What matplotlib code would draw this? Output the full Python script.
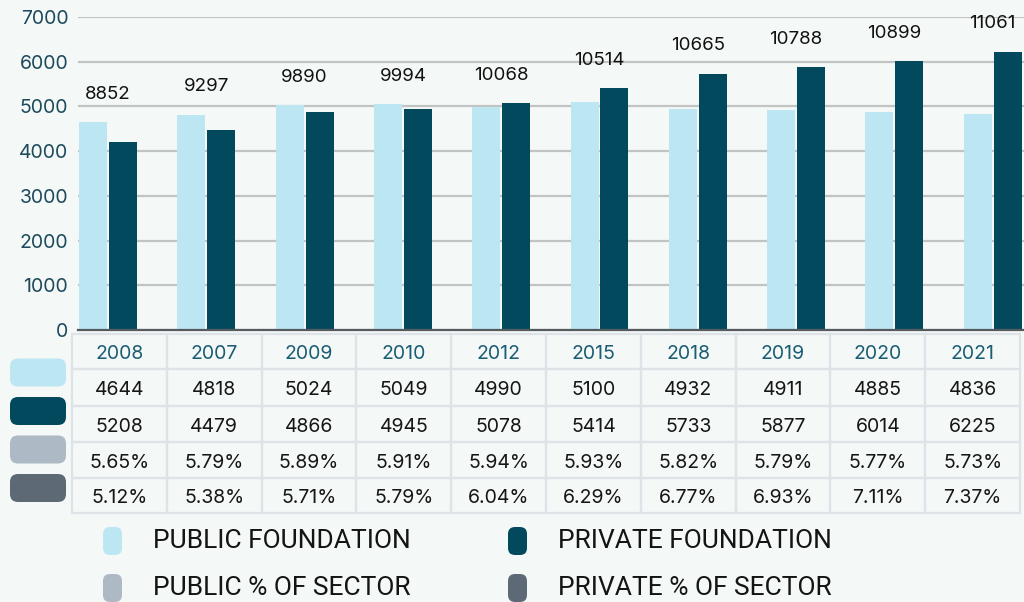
import matplotlib
matplotlib.use("Agg")
import matplotlib.pyplot as plt
from matplotlib.patches import FancyBboxPatch, Rectangle

years = ["2008", "2007", "2009", "2010", "2012", "2015", "2018", "2019", "2020", "2021"]
public = [4644, 4818, 5024, 5049, 4990, 5100, 4932, 4911, 4885, 4836]
private = [4208, 4479, 4866, 4945, 5078, 5414, 5733, 5877, 6014, 6225]
# table row as printed in the source (first value differs from the bar)
private_row = ["5208", "4479", "4866", "4945", "5078", "5414", "5733", "5877", "6014", "6225"]
public_pct = ["5.65%", "5.79%", "5.89%", "5.91%", "5.94%", "5.93%", "5.82%", "5.79%", "5.77%", "5.73%"]
private_pct = ["5.12%", "5.38%", "5.71%", "5.79%", "6.04%", "6.29%", "6.77%", "6.93%", "7.11%", "7.37%"]
series = ["PUBLIC FOUNDATION", "PRIVATE FOUNDATION", "PUBLIC % OF SECTOR", "PRIVATE % OF SECTOR"]
colors = ["#bde6f3", "#03495e", "#adb9c4", "#5d6a75"]

bg = "#f4f8f7"
W, H = 1024, 602
plt.rcParams['font.family'] = ['Inter', 'DejaVu Sans']

fig = plt.figure(figsize=(W / 100, H / 100), dpi=100, facecolor=bg)

# ---- bar chart ----
ax = fig.add_axes([78 / W, (H - 330) / H, (W - 78) / W, (330 - 17) / H])
ax.set_facecolor(bg)
step = 98.3
xmin = -(108 - 78) / step
ax.set_xlim(xmin, xmin + (W - 78) / step)
ax.set_ylim(0, 7000)
bw = 28 / step
xs = list(range(len(years)))
ax.bar([x - bw / 2 - 0.01 for x in xs], public, width=bw, color=colors[0], zorder=3)
ax.bar([x + bw / 2 + 0.01 for x in xs], private, width=bw, color=colors[1], zorder=3)
for x, a, b in zip(xs, public, private):
    ax.annotate(str(a + b), (x, max(a, b)), xytext=(0, 20), textcoords="offset points",
                ha="center", va="center", fontsize=13.5, color="#111111", annotation_clip=False)

ax.set_yticks(range(0, 7001, 1000))
ax.set_xticks([])
ax.tick_params(axis="y", length=0, labelsize=14, labelcolor="#1d4a5c", pad=7)
ax.grid(axis="y", color="#c2c4c4", linewidth=1.6, zorder=0)
for s in ["top", "right", "left"]:
    ax.spines[s].set_visible(False)
ax.spines["bottom"].set_color("#555b5e")
ax.spines["bottom"].set_linewidth(1.6)
ax.spines["bottom"].set_zorder(4)

# ---- table + swatches + legend, in pixel coordinates ----
ov = fig.add_axes([0, 0, 1, 1], facecolor="none")
ov.set_xlim(0, W)
ov.set_ylim(H, 0)
ov.axis("off")

tx0, tx1 = 72, 1020
ty = [334, 369, 406, 442, 478, 513]
cw = (tx1 - tx0) / len(years)
grid_col = "#dde3e6"
for r in range(5):
    for c in range(len(years)):
        ov.add_patch(Rectangle((tx0 + c * cw, ty[r]), cw, ty[r + 1] - ty[r],
                               facecolor="none", edgecolor=grid_col, linewidth=1.6))
rows = [years, [str(v) for v in public], private_row, public_pct, private_pct]
for r, row in enumerate(rows):
    yc = (ty[r] + ty[r + 1]) / 2 + 2.5
    for c, txt in enumerate(row):
        ov.text(tx0 + (c + 0.5) * cw, yc, txt, ha="center", va="center", fontsize=14,
                color="#1b5d74" if r == 0 else "#161616")

for i, col in enumerate(colors):
    yc = 372.5 + i * 38.5
    ov.add_patch(FancyBboxPatch((10 + 8, yc - 14 + 8), 56 - 16, 28 - 16,
                                boxstyle="round,pad=8", facecolor=col, edgecolor="none"))

leg = [(103, 541), (508, 541), (103, 588), (508, 588)]
for (lx, ly), name, col in zip(leg, series, colors):
    ov.add_patch(FancyBboxPatch((lx + 7, ly - 14 + 7), 19 - 14, 28 - 14,
                                boxstyle="round,pad=7", facecolor=col, edgecolor="none",
                                clip_on=False))
    ov.text(lx + 50, ly, name, ha="left", va="center", fontsize=19, color="#141414",
            family=["Roboto", "DejaVu Sans"])

fig.savefig("out.png", dpi=100, facecolor=bg)
